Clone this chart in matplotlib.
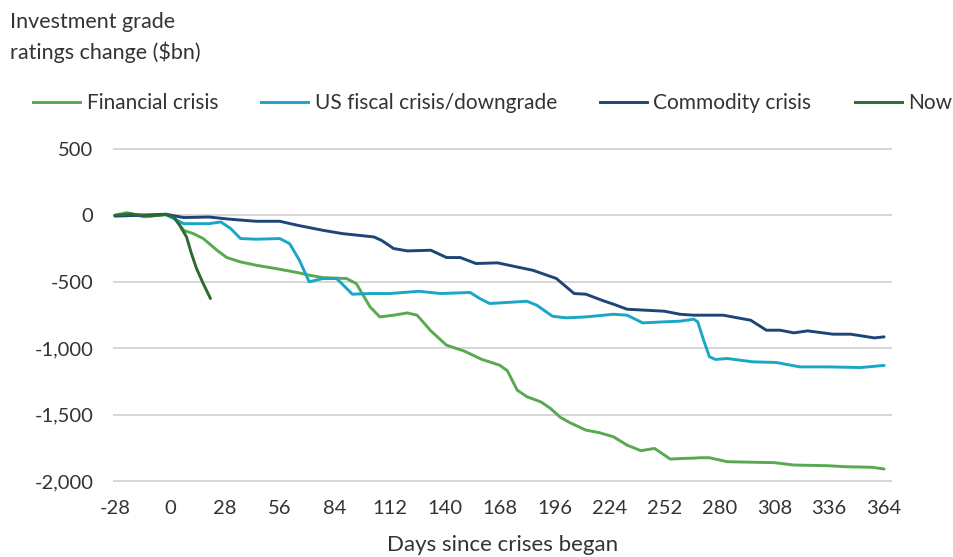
import matplotlib
matplotlib.use("Agg")
import matplotlib.pyplot as plt
from matplotlib.lines import Line2D

plt.rcParams['font.family'] = ['Lato', 'DejaVu Sans']
plt.rcParams['axes.unicode_minus'] = False

# ---- data ----
fin_days = [-28, -22, -13, -2, 2, 7, 12, 17, 24, 29, 36, 44, 54, 65, 71, 78, 90, 95, 102, 107,
            114, 121, 126, 133, 141, 150, 159, 168, 172, 177, 182, 189, 194, 199, 204, 212, 219,
            226, 233, 240, 247, 255, 262, 267, 270, 275, 284, 301, 308, 318, 335, 345, 358, 364]
fin_vals = [0, 20, -12, 8, -13, -113, -138, -175, -263, -318, -351, -376, -401, -431, -451, -469,
            -476, -514, -689, -765, -752, -735, -752, -870, -978, -1022, -1085, -1128, -1170, -1316,
            -1366, -1404, -1454, -1521, -1562, -1617, -1637, -1667, -1730, -1772, -1755, -1835,
            -1830, -1828, -1825, -1825, -1855, -1860, -1862, -1880, -1885, -1893, -1897, -1910]

us_days = [-28, -15, -2, 7, 20, 26, 31, 36, 44, 56, 61, 66, 71, 78, 85, 93, 102, 112, 127, 138,
           153, 158, 163, 182, 187, 195, 202, 212, 226, 233, 241, 252, 260, 267, 269, 272, 275,
           278, 284, 297, 309, 321, 335, 352, 364]
us_vals = [-5, 0, 5, -63, -63, -50, -100, -175, -180, -175, -213, -338, -501, -476, -476, -594,
           -589, -589, -572, -589, -581, -627, -664, -647, -677, -760, -772, -765, -745, -752,
           -810, -802, -797, -782, -802, -940, -1065, -1085, -1078, -1103, -1108, -1141, -1141,
           -1146, -1130]

com_days = [-28, -15, -2, 7, 20, 31, 44, 56, 65, 78, 88, 104, 108, 114, 121, 133, 141, 148, 156,
            167, 175, 185, 197, 206, 212, 221, 226, 233, 252, 260, 267, 282, 296, 304, 311, 318,
            325, 338, 347, 359, 364]
com_vals = [-5, 0, 8, -17, -13, -30, -45, -45, -75, -113, -138, -163, -190, -250, -268, -263,
            -318, -318, -363, -358, -383, -414, -476, -589, -594, -644, -669, -707, -722, -745,
            -752, -752, -790, -865, -865, -885, -870, -895, -895, -923, -915]

now_days = [-28, -20, -10, -2, 2, 5, 8.5, 11, 13.6, 17, 20.7]
now_vals = [0, 10, -5, 5, -13, -75, -163, -288, -401, -514, -627]

x_ticks = [-28, 0, 28, 56, 84, 112, 140, 168, 196, 224, 252, 280, 308, 336, 364]
y_ticks = [500, 0, -500, -1000, -1500, -2000]
y_labels = ['500', '0', '-500', '-1,000', '-1,500', '-2,000']

labels = ['Financial crisis', 'US fiscal crisis/downgrade', 'Commodity crisis', 'Now']
colors = ['#58a94f', '#1aa6c6', '#1d4677', '#2e6a33']

# ---- figure ----
fig = plt.figure(figsize=(9.54, 5.57), dpi=100)
ax = fig.add_axes([0.1184, 0.1341, 0.8166, 0.601])

series = [(fin_days, fin_vals), (us_days, us_vals), (com_days, com_vals), (now_days, now_vals)]
for (d, v), c, lab in zip(series, colors, labels):
    ax.plot(d, v, color=c, lw=2.1, label=lab, solid_joinstyle='round', solid_capstyle='round')

ax.set_xlim(-29, 368)
ax.set_ylim(-2010, 510)
ax.set_xticks(x_ticks)
ax.set_xticklabels([str(t) for t in x_ticks])
ax.set_yticks(y_ticks)
ax.set_yticklabels(y_labels)
for s in ax.spines.values():
    s.set_visible(False)
ax.tick_params(axis='both', length=0, labelsize=14.5, colors='#333333')
ax.tick_params(axis='x', pad=13)
ax.tick_params(axis='y', pad=14)
ax.grid(axis='y', color='#d4d4d4', lw=1.3)
ax.set_axisbelow(True)
ax.set_xlabel('Days since crises began', fontsize=16, color='#333333', labelpad=13)

fig.text(0.0105, 0.978, 'Investment grade\nratings change ($bn)', fontsize=15.5, color='#333333',
         va='top', ha='left', linespacing=1.5)

handles = [Line2D([0], [0], color=c, lw=2.1) for c in colors]
fig.legend(handles, labels, loc='center left', bbox_to_anchor=(0.035, 0.815), ncol=4,
           frameon=False, fontsize=15, handlelength=2.26, handletextpad=0.3,
           columnspacing=2.07, labelcolor='#333333', borderaxespad=0, borderpad=0)

fig.savefig('out.png', dpi=100, facecolor='white')
